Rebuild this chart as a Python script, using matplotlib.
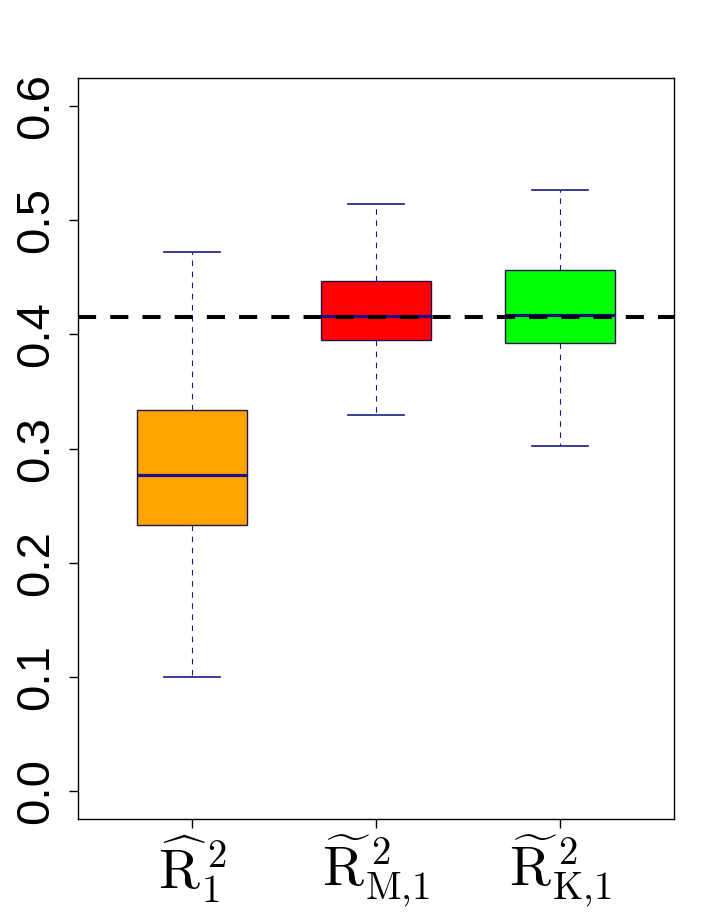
import matplotlib
matplotlib.use("Agg")
import matplotlib.pyplot as plt

# data
labels = [r"$\widehat{\mathrm{R}}_{1}^{\,2}$",
          r"$\widetilde{\mathrm{R}}_{\text{M,1}}^{\,2}$",
          r"$\widetilde{\mathrm{R}}_{\text{K,1}}^{\,2}$"]
whislo = [0.0996, 0.3298, 0.3018]
q1 = [0.2326, 0.3947, 0.3926]
med = [0.2770, 0.4165, 0.4172]
q3 = [0.3340, 0.4472, 0.4566]
whishi = [0.4726, 0.5144, 0.5269]
fills = ["#FFA500", "#FF0000", "#00FF00"]
ref_value = 0.4155
yticks = [0.0, 0.1, 0.2, 0.3, 0.4, 0.5, 0.6]

plt.rcParams["mathtext.fontset"] = "cm"

fig = plt.figure(figsize=(7.15, 9.17), dpi=100)
ax = fig.add_axes([78/715, 1-819/917, (674-78)/715, (819-78)/917])

stats = []
for i in range(3):
    stats.append(dict(med=med[i], q1=q1[i], q3=q3[i], whislo=whislo[i],
                      whishi=whishi[i], fliers=[], label=labels[i]))

bp = ax.bxp(stats, positions=[1, 2, 3], widths=0.6, patch_artist=True,
            showfliers=False,
            boxprops=dict(edgecolor="#24104f", linewidth=1.0),
            medianprops=dict(color="#1C0F8C", linewidth=2.3, solid_capstyle="butt"),
            whiskerprops=dict(color="#1a1a80", linewidth=0.8, linestyle=(0, (5, 5))),
            capprops=dict(color="#1a1a80", linewidth=1.2),
            capwidths=0.3)
for patch, c in zip(bp["boxes"], fills):
    patch.set_facecolor(c)

ax.axhline(ref_value, color="black", linewidth=2.9, linestyle=(0, (4.5, 3.5)), zorder=5)

ax.set_xlim(0.38, 3.62)
ax.set_ylim(-0.0248, 0.6248)
ax.set_yticks(yticks)
ax.set_yticklabels([f"{v:.1f}" for v in yticks], rotation=90, va="center",
                   fontfamily="Liberation Sans", fontsize=34)
ax.set_xticks([1, 2, 3])
ax.set_xticklabels(labels, fontsize=40)
ax.tick_params(axis="y", length=6.5, width=1, pad=8)
ax.tick_params(axis="x", length=6.5, width=1, pad=4)
for s in ax.spines.values():
    s.set_linewidth(1.0)

fig.savefig("out.png", dpi=100)
